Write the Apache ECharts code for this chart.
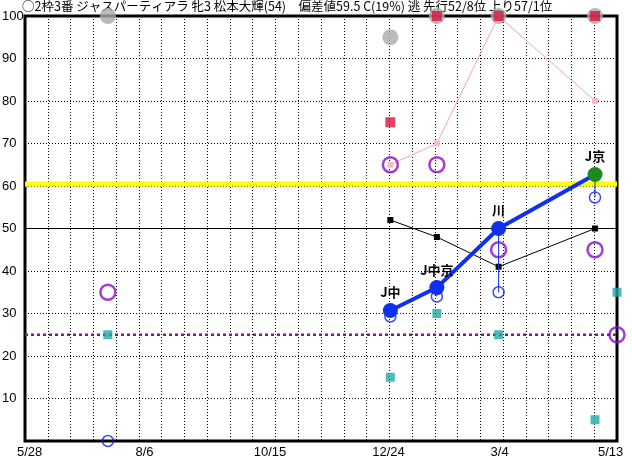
<!DOCTYPE html>
<html><head><meta charset="utf-8">
<script src="https://cdn.jsdelivr.net/npm/echarts@6/dist/echarts.min.js"></script>
<style>html,body{margin:0;padding:0;background:#fff}#c{width:632px;height:460px}</style>
</head><body><div id="c"></div>
<script>
const titleText = '○2枠3番 ジャスパーティアラ 牝3 松本大輝(54)　偏差値59.5 C(19%) 逃 先行52/8位 上り57/1位';
// x positions are days counted from 5/28
const xLabelDays = [0, 70, 140, 210, 280, 350];
const xLabels = ['5/28', '8/6', '10/15', '12/24', '3/4', '5/13'];
const raceDays = [49, 216, 243.5, 280, 337];
const todayDay = 350;
const grayCircle = [100, 95, 100, 100, 100];
const redSquare = [null, 75, 100, 100, 100];
const pinkLine = [null, 65, 70, 100, 80];
const purpleCircle = [35, 65, 65, 45, 45];
const purpleToday = 25;
const tealSquare = [25, 15, 30, 25, 5];
const tealToday = 35;
const blackLine = [null, 52, 48, 41, 50];
const blueMain = [null, 30.7, 36.1, 50, 62.7];
const blueLabels = [null, 'J中', 'J中京', '川', 'J京'];
const blueOpen = [0, 29.3, 34, 35, 57.3];
const yellowLevel = 60.5;
const purpleLevel = 25;
const solidLevel = 50;
const yTicks = [10, 20, 30, 40, 50, 60, 70, 80, 90, 100];

const X_MAX = 350, X_DIV = 26;

function pairs(vals) {
  return raceDays.map((d, i) => vals[i] == null ? null : [d, vals[i]]).filter(Boolean);
}
const FONT = '"Liberation Sans", "Noto Sans CJK JP", sans-serif';

const series = [];
function hline(level, style, z) {
  series.push({ type: 'line', data: [[0, level], [X_MAX, level]], symbol: 'none', silent: true,
    lineStyle: style, z: z, animation: false });
}
hline(yellowLevel, { color: '#ffff00', width: 5 }, 1);
hline(solidLevel, { color: '#000', width: 1 }, 1);
hline(purpleLevel, { color: '#7a1a8c', width: 2.5, type: [3, 3] }, 1);

series.push({ type: 'line', data: pairs(pinkLine), symbol: 'rect', symbolSize: 6, showAllSymbol: true,
  lineStyle: { color: '#f2a2bd', width: 1 }, itemStyle: { color: '#ffb8c8' }, z: 3 });
series.push({ type: 'line', data: pairs(blackLine), symbol: 'rect', symbolSize: 6, showAllSymbol: true,
  lineStyle: { color: '#000', width: 1 }, itemStyle: { color: '#000' }, z: 3 });
series.push({ type: 'scatter', data: pairs(grayCircle), symbol: 'circle', symbolSize: 16, clip: false,
  itemStyle: { color: '#aaaaaa' }, z: 4 });
series.push({ type: 'scatter', data: pairs(redSquare), symbol: 'rect', symbolSize: 10, clip: false,
  itemStyle: { color: '#dc143c' }, z: 5 });
series.push({ type: 'scatter', data: pairs(tealSquare).concat([[todayDay, tealToday]]), symbol: 'rect', symbolSize: 9, clip: false,
  itemStyle: { color: '#20aaa5' }, z: 5 });
series.push({ type: 'scatter', data: pairs(purpleCircle).concat([[todayDay, purpleToday]]), symbol: 'circle', symbolSize: 15, clip: false,
  itemStyle: { color: 'rgba(0,0,0,0)', borderColor: '#8a0cc8', borderWidth: 2.5 }, z: 6 });
raceDays.forEach((d, i) => {
  if (blueMain[i] != null && blueOpen[i] != null) {
    series.push({ type: 'line', data: [[d, blueMain[i]], [d, blueOpen[i]]], symbol: 'none',
      lineStyle: { color: '#1030f0', width: 1 }, z: 7 });
  }
});
series.push({ type: 'scatter', data: pairs(blueOpen), symbol: 'circle', symbolSize: 11, clip: false,
  itemStyle: { color: 'rgba(0,0,0,0)', borderColor: '#1020e0', borderWidth: 1.5 }, z: 7 });
const mainData = [];
raceDays.forEach((d, i) => {
  if (blueMain[i] == null) return;
  const isLast = i === raceDays.length - 1;
  mainData.push({ value: [d, blueMain[i]],
    itemStyle: isLast ? { color: '#1d8a1d' } : undefined,
    label: { show: true, formatter: blueLabels[i] } });
});
series.push({ type: 'line', data: mainData, symbol: 'circle', symbolSize: 15, showAllSymbol: true,
  lineStyle: { color: '#1030f0', width: 4 }, itemStyle: { color: '#1030f0' },
  label: { position: 'top', distance: 4, color: '#000', fontWeight: 'bold', fontSize: 13, fontFamily: '"Noto Sans CJK JP", sans-serif' },
  z: 8 });

const chart = echarts.init(document.getElementById('c'), null, { renderer: 'canvas' });
chart.setOption({
  animation: false,
  backgroundColor: '#fff',
  graphic: [{ type: 'text', left: 22, top: 0, z: 0,
    style: { text: titleText, font: '12.5px "Noto Sans CJK JP", sans-serif', fill: '#000' } }],
  grid: { left: 25, right: 15, top: 16, bottom: 19, show: true, borderColor: '#000', borderWidth: 3, backgroundColor: '#fff', z: 0,
    containLabel: false, outerBoundsMode: 'none' },
  xAxis: [
    { type: 'value', min: 0, max: X_MAX, interval: X_MAX / X_DIV,
      axisLine: { show: false }, axisTick: { show: false }, axisLabel: { show: false },
      splitLine: { show: true, lineStyle: { color: '#000', width: 1, type: [1, 2] } } },
    { type: 'value', position: 'bottom', min: 0, max: X_MAX, interval: 70,
      axisLine: { show: false }, axisTick: { show: false }, splitLine: { show: false },
      axisLabel: { show: true, align: 'center', alignMinLabel: 'center', alignMaxLabel: 'center', margin: 5, color: '#000', fontSize: 13, fontFamily: FONT,
        formatter: v => {
          const k = xLabelDays.indexOf(Math.round(v));
          if (k < 0) return '';
          return (k === xLabels.length - 1 ? '{e|' : '{d|') + xLabels[k] + '}';
        },
        rich: {
          d: { width: 16, align: 'left', fontSize: 13, fontFamily: FONT, color: '#000' },
          e: { width: 38, align: 'left', fontSize: 13, fontFamily: FONT, color: '#000' }
        } } }
  ],
  yAxis: { type: 'value', min: 0, max: 100, interval: 10,
    axisLine: { show: false }, axisTick: { show: false },
    axisLabel: { align: 'left', margin: 23, color: '#000', fontSize: 13, fontFamily: FONT,
      formatter: v => yTicks.indexOf(v) >= 0 ? String(v) : '' },
    splitLine: { show: true, lineStyle: { color: '#000', width: 1, type: [1, 2] } } },
  series: series
});
</script>
</body></html>
